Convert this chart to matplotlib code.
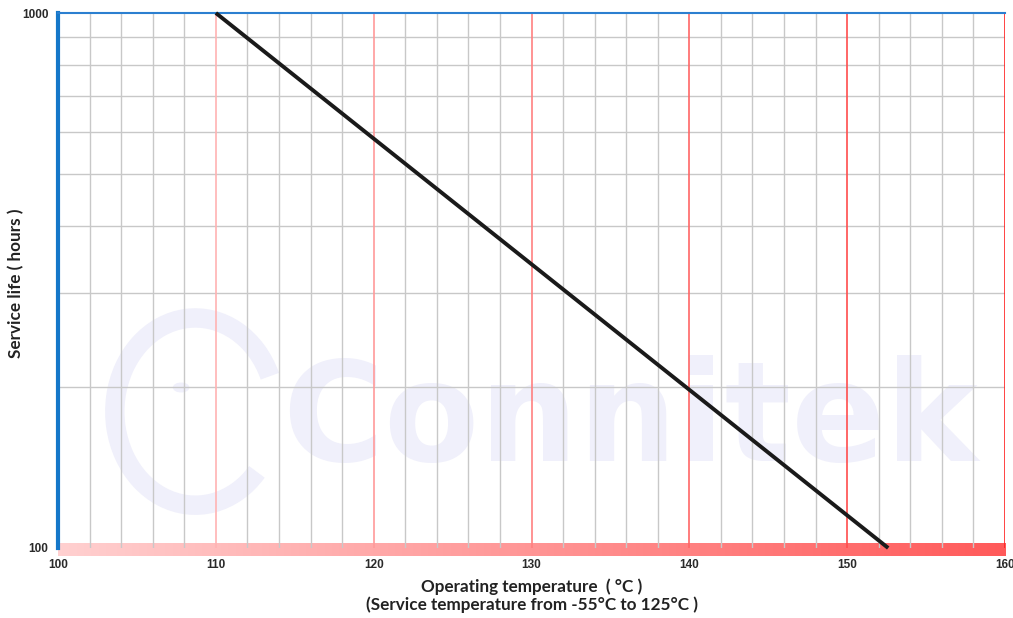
import numpy as np
import matplotlib.pyplot as plt
from matplotlib.colors import LinearSegmentedColormap
from matplotlib.patches import Arc, Circle

# данные
temp = [110, 152.6]          # °C
life = [1000, 100]           # часы
x_ticks = [100, 110, 120, 130, 140, 150, 160]
y_ticks = [100, 1000]
red_lines = [110, 120, 130, 140, 150, 160]
red_colors = ['#ffb3b3', '#ff9a9a', '#ff8080', '#ff6666', '#ff4d4d', '#ff2222']

W, H = 1013, 618
fig = plt.figure(figsize=(W / 100, H / 100), dpi=100)

# полоса-градиент внизу
bar = fig.add_axes([58 / W, (H - 556) / H, 947 / W, 13 / H], zorder=0)
cmap = LinearSegmentedColormap.from_list('g', ['#ffd0d0', '#ff5a5a'])
bar.imshow(np.linspace(0, 1, 256)[None, :], aspect='auto', cmap=cmap)
bar.axis('off')

ax = fig.add_axes([58 / W, 1 - 548 / H, 947 / W, (548 - 13) / H], zorder=1)
ax.set_facecolor('none')
ax.set_yscale('log')
ax.set_xlim(100, 160)
ax.set_ylim(100, 1000)

# водяной знак
wm = '#f0f0fb'
ax.text(0.604, 0.235, 'Connitek', transform=ax.transAxes, ha='center', va='center',
        fontsize=100, fontweight='heavy', family='DejaVu Sans', color=wm, zorder=0.5)
ax.add_patch(Arc((0.145, 0.255), 0.17, 0.35, theta1=40, theta2=300, lw=14, color=wm,
                 transform=ax.transAxes, zorder=0.5))
ax.add_patch(Circle((0.13, 0.30), 0.008, color=wm, transform=ax.transAxes, zorder=0.5))

# сетка
for xv in np.arange(102, 160, 2):
    if xv % 10:
        ax.axvline(xv, color='#c8c8c8', lw=1, zorder=1)
for yv in range(200, 1000, 100):
    ax.axhline(yv, color='#c8c8c8', lw=1, zorder=1)
for xv, c in zip(red_lines, red_colors):
    ax.axvline(xv, color=c, lw=1.2, zorder=1.5)

ax.plot(temp, life, color='#1a1a1a', lw=2.8, zorder=3, solid_capstyle='butt', clip_on=False)

for s in ['bottom', 'right']:
    ax.spines[s].set_visible(False)
ax.spines['left'].set_color('#1577c9')
ax.spines['left'].set_linewidth(3)
ax.spines['top'].set_color('#2b7fd0')
ax.spines['top'].set_linewidth(1.5)

ax.set_xticks(x_ticks)
ax.set_xticklabels([str(v) for v in x_ticks])
ax.set_yticks(y_ticks)
ax.set_yticklabels([str(v) for v in y_ticks])
ax.yaxis.set_minor_locator(plt.NullLocator())
ax.tick_params(length=0, labelsize=8.5, colors='#2a2a2a')
ax.tick_params(axis='x', pad=8)
ax.tick_params(axis='y', pad=7)
for lab in ax.get_xticklabels() + ax.get_yticklabels():
    lab.set_fontweight('bold')
    lab.set_family('Liberation Sans')

ax.set_xlabel('Operating temperature  ( °C )\n(Service temperature from -55°C to 125°C )',
              family='Lato', fontweight='bold', fontsize=12.3, color='#222222', labelpad=5,
              linespacing=1.15)
fig.text(16 / W, 1 - 283 / H, 'Service life ( hours )', rotation=90, ha='center', va='center',
         family='Lato', fontweight='bold', fontsize=12.3, color='#222222')

plt.savefig('out.png', dpi=100)
